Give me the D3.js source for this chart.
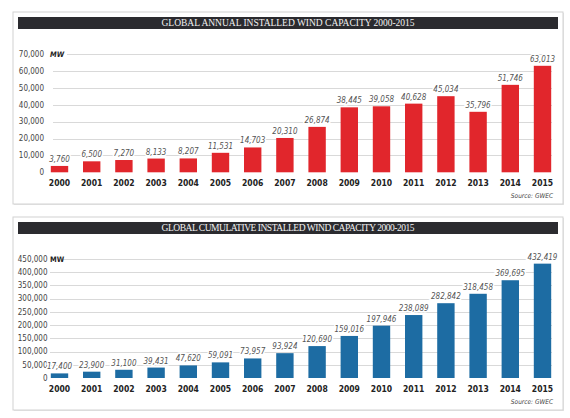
<!DOCTYPE html>
<html>
<head>
<meta charset="utf-8">
<script src="https://cdn.jsdelivr.net/npm/d3@7"></script>
<style>
  body { margin: 0; background: #fff; }
  svg text { font-family: "Liberation Sans Narrow", "DejaVu Sans Condensed", sans-serif; }
  svg text.title { font-family: "Liberation Serif", "DejaVu Serif", serif; fill: #f2f2f2; }
</style>
</head>
<body>
<div id="chart"></div>
<script>
// years shared by both charts
const years = ["2000","2001","2002","2003","2004","2005","2006","2007",
               "2008","2009","2010","2011","2012","2013","2014","2015"];

// annual installed capacity (MW)
const annualValues = [3760, 6500, 7270, 8133, 8207, 11531, 14703, 20310,
                      26874, 38445, 39058, 40628, 45034, 35796, 51746, 63013];

// cumulative installed capacity (MW)
const cumulativeValues = [17400, 23900, 31100, 39431, 47620, 59091, 73957, 93924,
                          120690, 159016, 197946, 238089, 282842, 318458, 369695, 432419];

const annualTicks = [0, 10000, 20000, 30000, 40000, 50000, 60000, 70000];
const cumulativeTicks = [0, 50000, 100000, 150000, 200000, 250000, 300000, 350000, 400000, 450000];

const width = 570, height = 418;
const fmt = d3.format(",");

const svg = d3.select("#chart")
  .append("svg")
  .attr("width", width)
  .attr("height", height);

function drawPanel(opt) {
  const g = svg.append("g");

  // panel frame with a soft shadow
  g.append("rect")
    .attr("x", 14).attr("y", opt.top + 1)
    .attr("width", 550).attr("height", opt.panelH)
    .attr("fill", "#e6e6e6");
  g.append("rect")
    .attr("x", 13).attr("y", opt.top)
    .attr("width", 550).attr("height", opt.panelH)
    .attr("fill", "#fff")
    .attr("stroke", "#d2d2d2")
    .attr("stroke-width", 1);

  // title bar
  g.append("rect")
    .attr("x", 18).attr("y", opt.top + 5)
    .attr("width", 540).attr("height", 12)
    .attr("fill", "#2b2b2f");
  g.append("text")
    .attr("class", "title")
    .attr("x", 288).attr("y", opt.top + 14.3)
    .attr("text-anchor", "middle")
    .attr("textLength", 253)
    .attr("lengthAdjust", "spacing")
    .style("font-size", "9.5px")
    .text(opt.title);

  const x = d3.scaleBand()
    .domain(years)
    .range([43.4, 558.6])
    .paddingInner(0.46)
    .paddingOuter(0.23);

  const y = d3.scaleLinear()
    .domain([0, opt.ticks[opt.ticks.length - 1]])
    .range([opt.y0, opt.yTop]);

  const maxTick = opt.ticks[opt.ticks.length - 1];

  // grid lines
  g.append("g")
    .selectAll("line")
    .data(opt.ticks.filter(t => t > 0))
    .join("line")
      .attr("x1", d => d === maxTick ? opt.gridStartTop : opt.gridStart)
      .attr("x2", 552)
      .attr("y1", d => Math.round(y(d)) + 0.5)
      .attr("y2", d => Math.round(y(d)) + 0.5)
      .attr("stroke", "#d9d9d9")
      .attr("stroke-width", 1);

  // y tick labels
  g.append("g")
    .selectAll("text")
    .data(opt.ticks)
    .join("text")
      .attr("x", opt.tickX)
      .attr("y", d => y(d) + 2.8)
      .attr("text-anchor", "end")
      .style("font-size", "8px")
      .attr("fill", "#444")
      .text(d => fmt(d));

  // unit label
  g.append("text")
    .attr("x", opt.unitX)
    .attr("y", y(maxTick) + 2.8)
    .style("font-size", "7.5px")
    .style("font-weight", 700)
    .style("font-style", opt.unitItalic ? "italic" : "normal")
    .attr("fill", "#222")
    .text("MW");

  // bars
  g.append("g")
    .selectAll("rect")
    .data(opt.values)
    .join("rect")
      .attr("x", (d, i) => x(years[i]))
      .attr("y", d => y(d))
      .attr("width", x.bandwidth())
      .attr("height", d => opt.y0 - y(d))
      .attr("fill", opt.color);

  // value labels, white halo breaks the grid line behind them
  g.append("g")
    .selectAll("text")
    .data(opt.values)
    .join("text")
      .attr("x", (d, i) => x(years[i]) + x.bandwidth() / 2)
      .attr("y", d => y(d) - 4)
      .attr("text-anchor", "middle")
      .style("font-size", "8px")
      .style("font-style", "italic")
      .attr("fill", "#555")
      .attr("stroke", "#fff")
      .attr("stroke-width", 3)
      .attr("paint-order", "stroke")
      .text(d => fmt(d));

  // year labels
  g.append("g")
    .selectAll("text")
    .data(years)
    .join("text")
      .attr("x", d => x(d) + x.bandwidth() / 2)
      .attr("y", opt.y0 + 14)
      .attr("text-anchor", "middle")
      .style("font-size", "8.5px")
      .style("font-weight", 700)
      .attr("fill", "#222")
      .text(d => d);

  // source
  g.append("text")
    .attr("x", 553)
    .attr("y", opt.top + opt.panelH - 6)
    .attr("text-anchor", "end")
    .style("font-size", "6.5px")
    .style("font-style", "italic")
    .attr("fill", "#444")
    .text("Source: GWEC");
}

drawPanel({
  top: 12, panelH: 192,
  title: "GLOBAL ANNUAL INSTALLED WIND CAPACITY 2000-2015",
  values: annualValues, ticks: annualTicks,
  y0: 172.3, yTop: 54,
  color: "#e1262c",
  gridStart: 53, gridStartTop: 67,
  tickX: 44, unitX: 50, unitItalic: true
});

drawPanel({
  top: 217, panelH: 193,
  title: "GLOBAL CUMULATIVE INSTALLED WIND CAPACITY 2000-2015",
  values: cumulativeValues, ticks: cumulativeTicks,
  y0: 378, yTop: 259,
  color: "#1d6ca3",
  gridStart: 50, gridStartTop: 63,
  tickX: 47.5, unitX: 50, unitItalic: false
});
</script>
</body>
</html>
